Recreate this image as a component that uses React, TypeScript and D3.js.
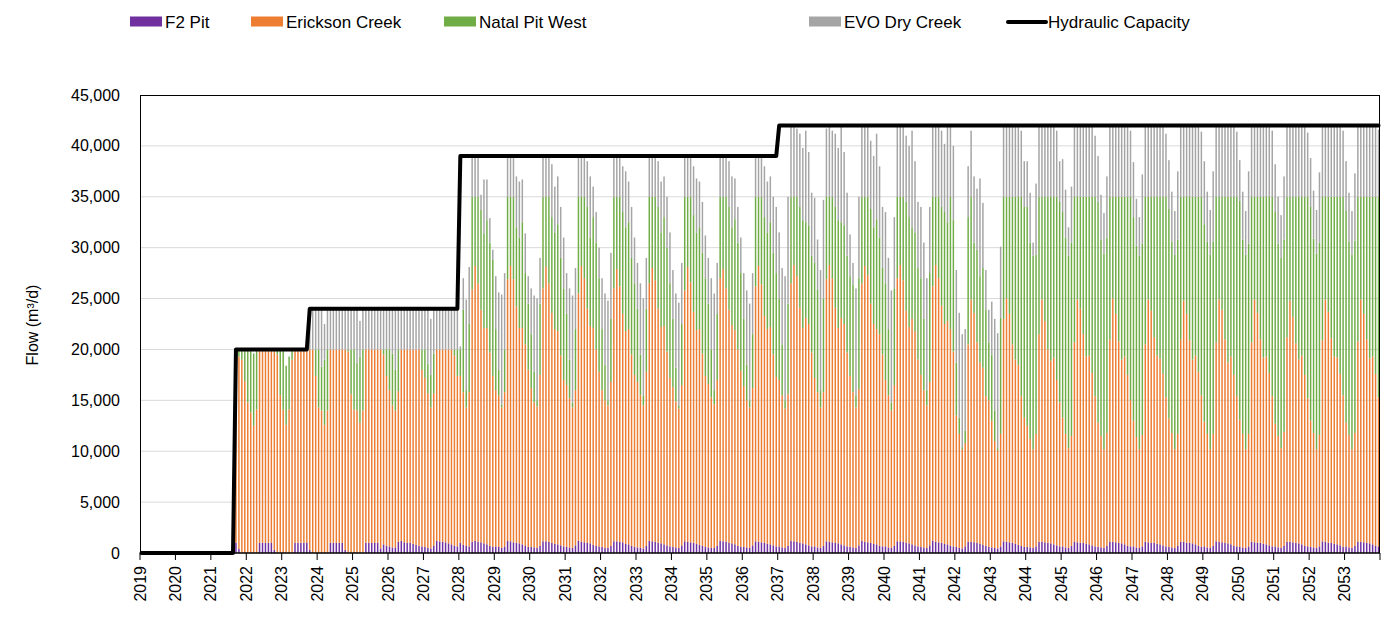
import React from "react";
import * as d3 from "d3";

// Year labels on the x axis (one per year, monthly data)
const YEAR_LABELS = [
  "2019","2020","2021","2022","2023","2024","2025","2026","2027","2028",
  "2029","2030","2031","2032","2033","2034","2035","2036","2037","2038",
  "2039","2040","2041","2042","2043","2044","2045","2046","2047","2048",
  "2049","2050","2051","2052","2053",
];

const Y_TICKS = [0, 5000, 10000, 15000, 20000, 25000, 30000, 35000, 40000, 45000];

// Monthly flows (m3/d), one row per year, Jan..Dec
const F2_PIT = [
  0,0,0,0,0,0,0,0,0,0,0,0,
  0,0,0,0,0,0,0,0,0,0,0,0,
  0,0,0,0,0,0,0,0,1000,400,0,0,
  0,0,0,0,1000,1000,1000,1000,1000,300,0,0,
  0,0,0,0,1000,1000,1000,1000,1000,300,0,0,
  0,0,0,0,1000,1000,1000,1000,1000,300,0,0,
  0,0,0,0,1000,1000,1000,1000,1000,450,850,700,
  650,550,550,1100,1200,1050,1000,1000,900,800,700,650,
  600,500,450,700,1200,1150,1100,1050,950,850,700,650,
  1000,800,700,650,1100,1200,1100,1050,950,850,700,600,
  650,600,500,650,1200,1150,1050,1000,950,850,700,600,
  600,550,500,700,1150,1150,1100,1000,900,850,750,650,
  600,550,500,750,1200,1100,1050,1000,950,800,700,650,
  600,500,500,700,1150,1150,1100,1050,900,850,700,600,
  550,500,450,700,1200,1150,1100,1000,950,850,750,650,
  600,550,500,750,1150,1100,1050,1000,900,800,700,600,
  550,500,500,700,1200,1150,1100,1000,950,850,700,600,
  600,550,500,750,1150,1100,1050,1000,900,850,750,650,
  650,550,500,700,1200,1150,1100,1000,950,850,750,650,
  650,550,500,700,1150,1100,1050,1000,950,850,750,650,
  600,550,500,750,1200,1100,1050,1000,900,850,700,650,
  650,550,500,700,1150,1150,1100,1000,950,850,750,650,
  600,550,500,750,1200,1100,1050,1000,900,850,700,650,
  600,500,450,650,1100,1100,1050,1000,900,800,700,600,
  550,500,450,650,1150,1100,1050,1000,900,800,700,600,
  600,550,500,650,1100,1100,1050,1000,950,850,750,650,
  650,550,500,700,1100,1050,1000,1000,900,850,750,650,
  600,550,500,700,1100,1100,1050,1000,950,850,700,650,
  650,550,500,650,1100,1050,1000,1000,900,850,750,650,
  600,550,500,700,1100,1100,1000,1000,950,850,700,600,
  650,550,500,700,1150,1100,1050,1000,950,850,700,650,
  600,550,500,650,1100,1050,1000,1000,900,850,750,650,
  650,550,500,700,1100,1100,1050,1000,950,850,700,650,
  600,550,500,650,1150,1100,1000,1000,900,850,750,600,
  650,550,500,700,1100,1100,1050,1000,950,850,700,650,
];

const ERICKSON_CREEK = [
  0,0,0,0,0,0,0,0,0,0,0,0,
  0,0,0,0,0,0,0,0,0,0,0,0,
  0,0,0,0,0,0,0,0,18300,18900,19000,16900,
  14800,13800,12500,14100,19000,19000,19000,19000,19000,19700,19500,15500,
  14100,12600,14100,19000,19000,19000,19000,19000,19000,19700,20000,17400,
  14300,14000,12600,14000,19000,19000,19000,19000,19000,19700,19800,15600,
  14100,14000,12800,14000,19000,19000,19000,19000,19000,19550,18650,16700,
  15350,13950,13450,14800,18800,18950,19000,19000,19100,19200,19300,17350,
  16600,15200,13850,15000,18800,18850,18900,18950,19050,19150,18700,16750,
  16400,15000,13600,15150,24800,27000,25400,22850,21150,21250,19000,16800,
  15350,14900,13800,15150,25700,27050,25850,23200,21150,21250,19800,17400,
  15600,14250,13900,16800,24850,26950,25400,22600,21100,20950,18650,16350,
  15900,14650,13800,15250,24300,27100,25950,23000,21350,21300,19300,17150,
  15400,14500,14000,16100,24850,26750,25100,22450,20900,21150,18800,16900,
  16250,15000,14050,17100,25300,26850,25700,23000,21250,21450,19050,16550,
  15700,14350,13700,15750,24650,27000,25550,22700,21000,21200,18900,16800,
  16050,14800,14100,16300,25800,26750,24900,22900,21450,21050,19300,17300,
  15800,14450,13800,15450,25050,27100,25350,22300,21100,21350,18750,16650,
  16350,14950,13700,14900,25300,27150,26100,23100,21150,22250,21750,19050,
  16550,15250,13800,15100,25750,27200,25950,23100,21150,22250,21750,19050,
  16800,15250,13800,15350,25300,27100,26250,23500,21600,21150,20800,18850,
  16350,14950,13500,15800,25850,27150,25700,22800,21250,22150,21050,18350,
  16900,15450,14000,16050,25000,27200,25950,23300,21600,21950,21300,19150,
  12900,11200,9750,10150,19400,23800,22550,19700,17800,17400,14700,14400,
  12450,10500,9650,11050,21850,23900,22450,19500,18100,17700,14700,12700,
  11900,10650,9700,11050,20400,23800,21750,19000,17950,18350,16250,14150,
  12650,11150,9800,10800,19600,23850,23000,20500,18400,18550,16950,14750,
  12200,10950,9700,11100,19900,23900,22450,19800,18050,18450,16800,14350,
  12350,10850,9700,10950,19400,23850,22800,20200,18500,18250,16850,14650,
  12600,11250,9700,11000,19900,23700,22500,19900,18050,18550,17100,14900,
  12250,11150,9700,11000,19550,23800,22850,20000,17750,18450,16800,14750,
  12500,11150,9700,11050,19600,23850,22600,20000,18300,18450,16950,14750,
  12050,10950,9800,11200,20100,23700,22150,19600,18050,18550,16800,14550,
  12400,11250,9700,10950,19750,23800,22700,20100,18400,18350,16850,14900,
  12150,11050,9700,11100,19700,23800,22450,20000,18150,18450,16900,14650,
];

const NATAL_PIT_WEST = [
  0,0,0,0,0,0,0,0,0,0,0,0,
  0,0,0,0,0,0,0,0,0,0,0,0,
  0,0,0,0,0,0,0,0,700,700,1000,3100,
  5200,6200,7100,5900,0,0,0,0,0,0,500,4500,
  5900,5800,5200,1000,0,0,0,0,0,0,0,2600,
  5700,4300,6400,6000,0,0,0,0,0,0,200,4400,
  5900,4700,6500,6000,0,0,0,0,0,0,500,2600,
  4000,5100,4000,4100,0,0,0,0,0,0,0,2000,
  2800,2900,3200,3900,0,0,0,0,0,0,600,2600,
  2600,8100,1700,6700,9100,6800,8500,9800,9300,10600,10800,11400,
  6000,2500,300,4200,8100,6800,8100,7800,8900,10400,7000,6500,
  5300,3000,600,7000,9000,6900,8500,9400,9500,10500,9600,9000,
  7000,3800,500,6000,9500,6800,8000,10000,8700,10900,10500,9200,
  6000,3500,500,6200,9000,7100,8800,10000,10200,10500,9500,9000,
  7200,4000,1000,6200,8500,7000,8200,10000,9300,10700,10200,9300,
  6700,3300,300,6000,9200,6900,8400,9500,9600,10000,9900,9600,
  7900,4700,1400,6500,8000,7100,9000,10100,9600,10900,10500,9600,
  6600,3500,700,5300,8800,6800,8600,9700,9500,10300,10000,10200,
  8000,5000,800,8900,8500,6700,7800,9900,10600,9400,9700,9500,
  11300,10100,1700,9200,8100,6700,8000,9900,10600,9400,9700,9500,
  9800,10600,1200,10900,8500,6800,7700,9300,9500,10800,9500,8500,
  9500,6500,800,9500,8000,6700,8200,10700,10800,9000,9700,9000,
  9500,7000,1500,10700,8800,6700,8000,9700,11000,9700,13000,12900,
  5200,1600,200,1200,12500,10100,6900,9100,8500,9800,8500,5700,
  6500,3000,200,11400,12000,10000,11500,14500,16000,16500,19600,20700,
  21500,19300,19000,17600,13500,10100,12200,15000,16100,15800,18000,19700,
  20200,19300,18900,19000,14300,10100,11000,13500,15700,15600,17300,19600,
  21700,19300,19200,19200,14000,10000,11500,14200,16000,15700,17500,20000,
  20000,18800,19000,18800,14500,10100,11200,13800,15600,15900,17400,19700,
  20600,18800,19100,19100,14000,10200,11500,14100,16000,15600,17200,19500,
  19400,18900,19100,18900,14300,10100,11100,14000,16300,15700,17500,19600,
  21500,19100,19100,18700,14300,10100,11400,14000,15800,15700,17300,19600,
  20800,18900,18700,18900,13800,10200,11800,14400,16000,15600,17500,19800,
  21000,19100,19200,18900,14100,10100,11300,13900,15700,15800,17400,19500,
  20800,19000,19100,18900,14200,10100,11500,14000,15900,15700,17400,19700,
];

const EVO_DRY_CREEK = [
  0,0,0,0,0,0,0,0,0,0,0,0,
  0,0,0,0,0,0,0,0,0,0,0,0,
  0,0,0,0,0,0,0,0,0,0,0,0,
  0,0,0,0,0,0,0,0,0,0,0,0,
  0,0,0,0,0,0,0,0,0,4000,4000,4000,
  4000,5700,3500,4000,4000,4000,4000,4000,4000,4000,4000,4000,
  4000,5300,3500,4000,4000,4000,4000,4000,4000,4000,4000,4000,
  4000,4400,6000,4000,4000,4000,4000,4000,4000,4000,4000,4000,
  4000,5400,5500,4400,4000,4000,4000,4000,4000,4000,4000,4000,
  300,3100,8900,5600,4000,4000,3800,1500,5300,4000,2400,1000,
  5200,7600,10800,7500,4000,4000,4000,5000,5500,4200,3900,2700,
  4500,7500,10000,4500,4000,4000,4000,5200,4500,4700,5000,5000,
  4000,7000,10500,6000,4000,4000,4000,4500,6000,3000,3000,3000,
  5000,7000,9800,6500,4000,4000,4000,4500,5500,4000,5000,4500,
  4500,7000,9500,5000,4000,4000,4000,4500,5000,4000,5000,5000,
  4800,7300,10100,6000,4000,4000,4000,4800,5300,4500,5000,4200,
  4500,7000,9500,5000,4000,4000,4000,4500,5000,4000,3500,3500,
  4500,7300,9500,6000,4000,4000,4000,5000,5000,4500,5500,6500,
  6500,7500,12200,10500,7000,7000,6700,7200,7100,9000,7200,6200,
  6400,4900,11800,9700,6700,7000,6500,7200,7100,9500,7200,6200,
  4100,2100,10500,8000,7000,7000,7000,6700,7000,8400,7000,6000,
  7000,7000,11000,7000,7000,7000,7000,6500,7000,9500,7000,6500,
  7000,7500,11000,6500,7000,7000,7000,7500,6700,9500,7000,7300,
  9100,10300,11100,10000,5000,6500,6500,6000,9600,6400,3900,3200,
  5200,9000,11300,7000,7000,7000,7000,7000,7000,7000,6500,4500,
  4500,4900,1300,7000,7000,7000,7000,7000,7000,7000,6500,4000,
  5200,4700,2800,5500,7000,7000,7000,7000,7000,7000,7000,6000,
  4500,4400,4000,6000,7000,7000,7000,7000,7000,7000,7000,6500,
  5400,4600,3800,6800,7000,7000,7000,7000,7000,7000,7000,6200,
  4800,4900,4300,6700,7000,7000,7000,7000,7000,7000,7000,6400,
  6200,4900,4400,6900,7000,7000,7000,7000,7000,7000,7000,6400,
  4000,4700,4300,7100,7000,7000,7000,7000,7000,7000,7000,6500,
  4700,4600,4200,6200,7000,7000,7000,7000,7000,7000,7000,6300,
  4800,4700,4300,6900,7000,7000,7000,7000,7000,7000,7000,6500,
  4900,4800,4300,6600,7000,7000,7000,7000,7000,7000,7000,6600,
];

const HYDRAULIC_CAPACITY = [
  0,0,0,0,0,0,0,0,0,0,0,0,
  0,0,0,0,0,0,0,0,0,0,0,0,
  0,0,0,0,0,0,0,0,20000,20000,20000,20000,
  20000,20000,20000,20000,20000,20000,20000,20000,20000,20000,20000,20000,
  20000,20000,20000,20000,20000,20000,20000,20000,20000,24000,24000,24000,
  24000,24000,24000,24000,24000,24000,24000,24000,24000,24000,24000,24000,
  24000,24000,24000,24000,24000,24000,24000,24000,24000,24000,24000,24000,
  24000,24000,24000,24000,24000,24000,24000,24000,24000,24000,24000,24000,
  24000,24000,24000,24000,24000,24000,24000,24000,24000,24000,24000,24000,
  39000,39000,39000,39000,39000,39000,39000,39000,39000,39000,39000,39000,
  39000,39000,39000,39000,39000,39000,39000,39000,39000,39000,39000,39000,
  39000,39000,39000,39000,39000,39000,39000,39000,39000,39000,39000,39000,
  39000,39000,39000,39000,39000,39000,39000,39000,39000,39000,39000,39000,
  39000,39000,39000,39000,39000,39000,39000,39000,39000,39000,39000,39000,
  39000,39000,39000,39000,39000,39000,39000,39000,39000,39000,39000,39000,
  39000,39000,39000,39000,39000,39000,39000,39000,39000,39000,39000,39000,
  39000,39000,39000,39000,39000,39000,39000,39000,39000,39000,39000,39000,
  39000,39000,39000,39000,39000,39000,39000,39000,39000,39000,39000,39000,
  42000,42000,42000,42000,42000,42000,42000,42000,42000,42000,42000,42000,
  42000,42000,42000,42000,42000,42000,42000,42000,42000,42000,42000,42000,
  42000,42000,42000,42000,42000,42000,42000,42000,42000,42000,42000,42000,
  42000,42000,42000,42000,42000,42000,42000,42000,42000,42000,42000,42000,
  42000,42000,42000,42000,42000,42000,42000,42000,42000,42000,42000,42000,
  42000,42000,42000,42000,42000,42000,42000,42000,42000,42000,42000,42000,
  42000,42000,42000,42000,42000,42000,42000,42000,42000,42000,42000,42000,
  42000,42000,42000,42000,42000,42000,42000,42000,42000,42000,42000,42000,
  42000,42000,42000,42000,42000,42000,42000,42000,42000,42000,42000,42000,
  42000,42000,42000,42000,42000,42000,42000,42000,42000,42000,42000,42000,
  42000,42000,42000,42000,42000,42000,42000,42000,42000,42000,42000,42000,
  42000,42000,42000,42000,42000,42000,42000,42000,42000,42000,42000,42000,
  42000,42000,42000,42000,42000,42000,42000,42000,42000,42000,42000,42000,
  42000,42000,42000,42000,42000,42000,42000,42000,42000,42000,42000,42000,
  42000,42000,42000,42000,42000,42000,42000,42000,42000,42000,42000,42000,
  42000,42000,42000,42000,42000,42000,42000,42000,42000,42000,42000,42000,
  42000,42000,42000,42000,42000,42000,42000,42000,42000,42000,42000,42000,
];

const SERIES_NAMES = ["F2 Pit", "Erickson Creek", "Natal Pit West", "EVO Dry Creek"];
const SERIES_VALUES = [F2_PIT, ERICKSON_CREEK, NATAL_PIT_WEST, EVO_DRY_CREEK];
const SERIES_COLORS = ["#7030A0", "#ED7D31", "#70AD47", "#A5A5A5"];
const LINE_NAME = "Hydraulic Capacity";

const FONT = "'Liberation Sans', Arial, Helvetica, sans-serif";

export default function App() {
  const W = 1381;
  const H = 626;
  const left = 140;
  const right = 1380;
  const top = 95;
  const bottom = 553;

  const n = F2_PIT.length;
  const months = d3.range(n);

  const x = d3
    .scaleBand<number>()
    .domain(months)
    .range([left, right])
    .paddingInner(0.5)
    .paddingOuter(0.25);
  const xYear = d3.scaleLinear().domain([0, YEAR_LABELS.length]).range([left, right]);
  const y = d3.scaleLinear().domain([0, 45000]).range([bottom, top]);

  const rows = months.map((i) => {
    const r: Record<string, number> = {};
    SERIES_NAMES.forEach((name, k) => (r[name] = SERIES_VALUES[k][i]));
    return r;
  });
  const stacked = d3.stack<Record<string, number>>().keys(SERIES_NAMES)(rows);

  const bw = x.bandwidth();
  const line = d3
    .line<number>()
    .x((_, i) => (x(i) as number) + bw / 2)
    .y((d) => y(d));

  const fmt = d3.format(",");
  const yearTicks = d3.range(YEAR_LABELS.length + 1);

  const legendSwatchX = [130, 251, 444, 809];

  return (
    <svg
      width={W}
      height={H}
      style={{ position: "absolute", left: 0, top: 0, background: "#fff" }}
      fontFamily={FONT}
    >
      <rect x={0} y={0} width={W} height={H} fill="#fff" />

      {/* gridlines */}
      {Y_TICKS.filter((t) => t > 0 && t < 45000).map((t) => (
        <line key={t} x1={left} x2={right} y1={y(t)} y2={y(t)} stroke="#D9D9D9" strokeWidth={1} />
      ))}

      {/* stacked bars */}
      {stacked.map((layer, k) => (
        <g key={SERIES_NAMES[k]} fill={SERIES_COLORS[k]}>
          {layer.map((d, i) =>
            d[1] - d[0] > 0 ? (
              <rect
                key={i}
                x={x(i) as number}
                y={y(d[1])}
                width={bw}
                height={y(d[0]) - y(d[1])}
              />
            ) : null
          )}
        </g>
      ))}

      {/* hydraulic capacity */}
      <path
        d={line(HYDRAULIC_CAPACITY) || ""}
        fill="none"
        stroke="#000"
        strokeWidth={4}
        strokeLinejoin="round"
        strokeLinecap="round"
      />

      {/* plot border */}
      <rect x={left + 0.5} y={top + 0.5} width={right - left - 1} height={bottom - top - 0.5} fill="none" stroke="#000" strokeWidth={1} />
      <line x1={left} x2={right} y1={bottom} y2={bottom} stroke="#000" strokeWidth={1.2} />

      {/* y axis labels */}
      {Y_TICKS.map((t) => (
        <text key={t} x={120} y={y(t)} dy="0.35em" textAnchor="end" fontSize={16} fill="#000">
          {fmt(t)}
        </text>
      ))}
      <text
        transform={`translate(38, ${(top + bottom) / 2 + 1}) rotate(-90)`}
        textAnchor="middle"
        fontSize={16}
        fill="#000"
      >
        Flow (m³/d)
      </text>

      {/* x axis ticks + labels */}
      {yearTicks.map((k) => (
        <line key={k} x1={xYear(k)} x2={xYear(k)} y1={bottom} y2={bottom + 7} stroke="#000" strokeWidth={1} />
      ))}
      {YEAR_LABELS.map((lab, k) => (
        <text
          key={lab}
          transform={`translate(${xYear(k)}, 566) rotate(-90)`}
          textAnchor="end"
          dy="0.35em"
          fontSize={16}
          fill="#000"
        >
          {lab}
        </text>
      ))}

      {/* legend */}
      {SERIES_NAMES.map((name, k) => (
        <g key={name}>
          <rect x={legendSwatchX[k]} y={16.5} width={32} height={10} fill={SERIES_COLORS[k]} />
          <text x={legendSwatchX[k] + 35} y={28} fontSize={17} fill="#000">
            {name}
          </text>
        </g>
      ))}
      <line x1={1008} x2={1046} y1={22} y2={22} stroke="#000" strokeWidth={4} strokeLinecap="round" />
      <text x={1048} y={28} fontSize={17} fill="#000">
        {LINE_NAME}
      </text>
    </svg>
  );
}
